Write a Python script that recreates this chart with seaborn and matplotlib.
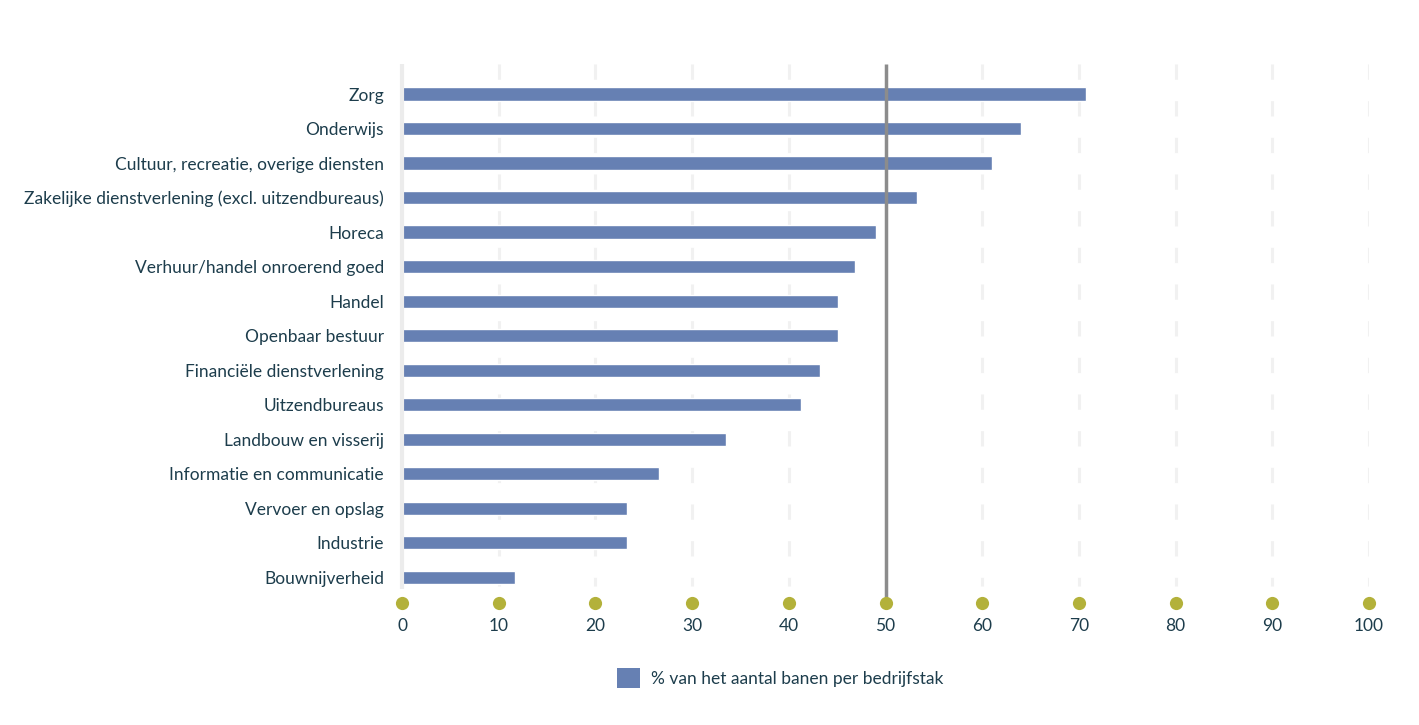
import matplotlib
matplotlib.use("Agg")
import matplotlib.pyplot as plt
import seaborn as sns
import pandas as pd
from matplotlib.patches import Patch

categories = [
    "Zorg",
    "Onderwijs",
    "Cultuur, recreatie, overige diensten",
    "Zakelijke dienstverlening (excl. uitzendbureaus)",
    "Horeca",
    "Verhuur/handel onroerend goed",
    "Handel",
    "Openbaar bestuur",
    "Financiële dienstverlening",
    "Uitzendbureaus",
    "Landbouw en visserij",
    "Informatie en communicatie",
    "Vervoer en opslag",
    "Industrie",
    "Bouwnijverheid",
]
values = [70.7, 64.0, 61.0, 53.3, 49.0, 46.8, 45.1, 45.1, 43.2, 41.3, 33.5, 26.6, 23.3, 23.3, 11.7]
xticks = [0, 10, 20, 30, 40, 50, 60, 70, 80, 90, 100]
legend_label = "% van het aantal banen per bedrijfstak"
reference_value = 50

BAR = "#6680b3"
TEXT = "#1d3d4c"
OLIVE = "#b3b13a"
GRID = "#f1f1f1"
ZERO = "#ececec"
REF = "#8c8c8c"

sns.set_theme(style="white")
plt.rcParams["font.family"] = ["Lato", "DejaVu Sans"]

df = pd.DataFrame({"sector": categories, "pct": values})

fig = plt.figure(figsize=(14.19, 7.25), dpi=100)
ax = fig.add_axes([0.2833, 0.1683, 0.6815, 0.7434])

sns.barplot(data=df, y="sector", x="pct", orient="h", color=BAR, width=0.38,
            saturation=1, ax=ax, zorder=2)

ax.set_xlim(0, 100)
ax.set_ylim(14.75, -0.87)

# dashed gridlines
for t in xticks[1:]:
    if t == reference_value:
        continue
    ax.vlines(t, -0.87, 14.25, colors=GRID, linewidth=2.2, linestyles=(0, (5, 7)), zorder=1)
# zero line
ax.vlines(0, -0.87, 14.35, colors=ZERO, linewidth=3, zorder=3, clip_on=False)
# reference line at 50
ax.vlines(reference_value, -0.87, 14.75, colors=REF, linewidth=2.5, zorder=4, clip_on=False)

# olive dots as tick markers
ax.plot(xticks, [14.75] * len(xticks), "o", color=OLIVE, markersize=9.5,
        clip_on=False, zorder=5, markeredgewidth=0)

for s in ax.spines.values():
    s.set_visible(False)

ax.set_xticks(xticks)
ax.set_xticklabels([str(t) for t in xticks], color=TEXT, fontsize=12.5)
ax.tick_params(axis="x", length=0, pad=11)
ax.tick_params(axis="y", length=0, pad=13, labelsize=12.5, labelcolor=TEXT)
ax.set_xlabel("")
ax.set_ylabel("")

fig.legend(handles=[Patch(facecolor=BAR, edgecolor="none", label=legend_label)],
           loc="center", bbox_to_anchor=(780 / 1419, 1 - 678 / 725), frameon=False,
           fontsize=12.5, labelcolor=TEXT, handlelength=1.35, handleheight=1.35,
           handletextpad=0.6)

fig.savefig("out.png", dpi=100, facecolor="white")
